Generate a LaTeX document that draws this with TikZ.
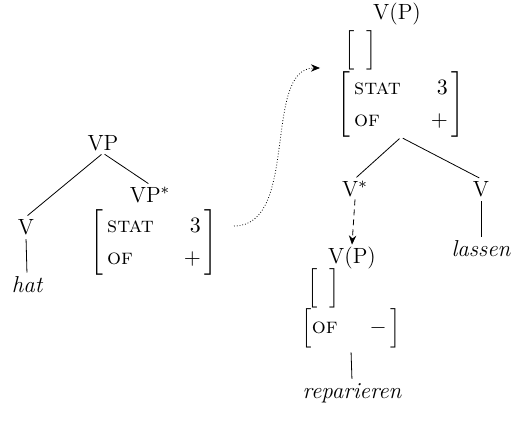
\documentclass[tikz,border=0pt]{standalone}
\usepackage{amsmath}
\usetikzlibrary{arrows.meta, positioning, calc}
\newcommand{\feat}[1]{\textsc{#1}}
\newcommand{\avmstrut}{\rule[-8pt]{0pt}{21pt}}
\newcommand{\emptyavm}{$\Big[\hspace{6pt}\Big]$}
\renewcommand{\arraystretch}{1.25}
\tikzset{
  cat/.style={inner sep=1pt},
  avm/.style={inner sep=0pt},
  word/.style={inner sep=1pt, font=\fontsize{11.5}{14}\selectfont\itshape},
  branch/.style={thin, shorten <=1pt, shorten >=1pt},
  arrow/.style={-{Stealth[length=1.6mm, width=1.3mm]}, thin},
  every node/.style={font=\fontsize{11}{13}\selectfont}
}
\begin{document}
\begin{tikzpicture}[x=0.5pt, y=-0.5pt]
    \useasboundingbox (0,0) rectangle (513,426);
    % left tree
    \node[cat] (vp) at (103,143) {VP};
    \node[cat] (vl) at (26,227) {V};
    \node[word] (hat) at (27,285) {hat};
    \node[cat] (vpstar) at (150,195) {VP$^{*}$};
    \node[avm] (lavm) at (154,242) {$\left[\begin{array}{@{\,}l@{\hspace{15pt}}r@{\,}}\text{\feat{stat}} & 3\\ \text{\feat{of}} & +\end{array}\right]$};

    % right tree
    \node[cat] (vptop) at (397,14) {V(P)};
    \node[avm] (etop) at (361,50) {\emptyavm};
    \node[avm] (ravm) at (401,104) {$\left[\begin{array}{@{\,}l@{\hspace{15pt}}r@{\,}}\text{\feat{stat}} & 3\\ \text{\feat{of}} & +\end{array}\right]$};
    \node[cat] (vstar) at (355,189) {V$^{*}$};
    \node[cat] (vr) at (481,189) {V};
    \node[word] (lassen) at (481,249) {lassen};

    % lower tree
    \node[cat] (vplow) at (352,258) {V(P)};
    \node[avm] (elow) at (324,288) {\emptyavm};
    \node[avm] (lowavm) at (351,329) {$\left[\avmstrut\text{\feat{of}}\hspace{16pt}-\,\right]$};
    \node[word] (repar) at (352,393) {reparieren};

    \coordinate (src) at (234,226);
    \coordinate (tip) at (320,68);

    \draw[branch] (vp.south) -- (vl.north);
    \draw[branch] (vp.south) -- (vpstar.north);
    \draw[branch] (vl.south) -- (hat.north);
    \draw[branch] (ravm.south) -- (vstar.north);
    \draw[branch] (ravm.south) -- (vr.north);
    \draw[branch] (vr.south) -- (lassen.north);
    \draw[branch] (lowavm.south) -- (repar.north);
    \draw[arrow, densely dashed] (vstar.south) -- (vplow.north);
    \draw[arrow, densely dotted] (src) .. controls (300,226) and (262,68) .. (tip);
\end{tikzpicture}
\end{document}
